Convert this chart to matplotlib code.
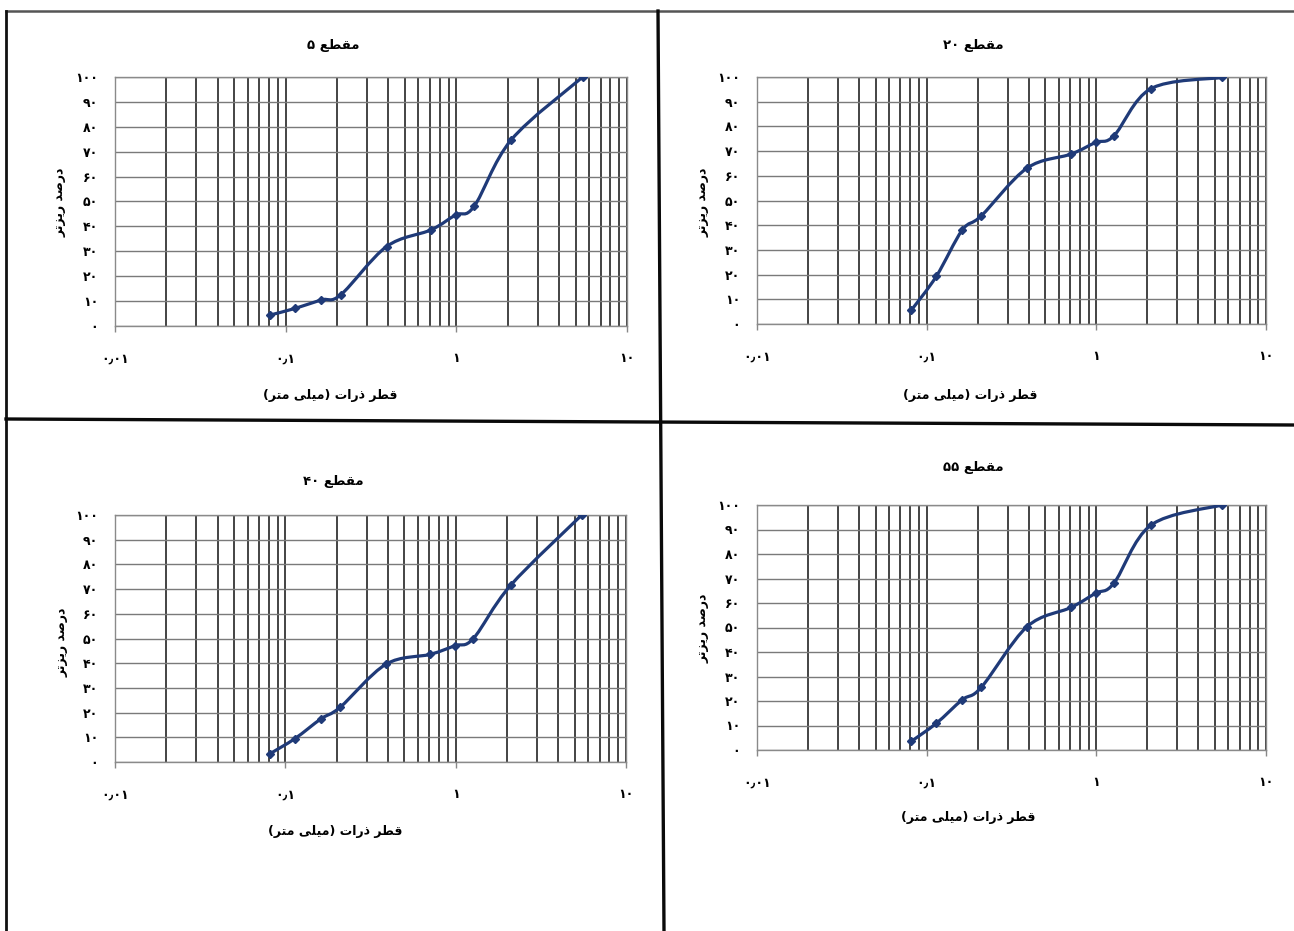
import numpy as np
import matplotlib
matplotlib.use("Agg")
import matplotlib.pyplot as plt
from matplotlib.path import Path
from matplotlib.patches import PathPatch
from matplotlib.lines import Line2D
from matplotlib.ticker import LogLocator, FixedLocator, NullFormatter

plt.rcParams['font.family'] = ['DejaVu Sans']

# ---------------- data ----------------
sizes = [0.081, 0.114, 0.162, 0.21, 0.39, 0.71, 0.99, 1.27, 2.1, 5.5]
pass_5 = [4.4, 7.1, 10.5, 12.5, 31.9, 38.6, 44.6, 48.0, 74.8, 100]
pass_20 = [5.5, 19.3, 38.0, 43.8, 63.1, 68.8, 73.5, 76.2, 95.3, 99.8]
pass_40 = [3.3, 9.5, 17.5, 22.2, 39.6, 43.6, 47.1, 50.0, 71.5, 100]
pass_55 = [3.5, 10.9, 20.5, 25.6, 50.3, 58.2, 64.0, 68.1, 91.8, 100]

titles = ["مقطع ۵", "مقطع ۲۰", "مقطع ۴۰", "مقطع ۵۵"]
y_label = "درصد ریزتر"
x_label = "قطر ذرات (میلی متر)"
y_ticks = [0, 10, 20, 30, 40, 50, 60, 70, 80, 90, 100]
y_tick_labels = ["۰", "۱۰", "۲۰", "۳۰", "۴۰", "۵۰", "۶۰", "۷۰", "۸۰", "۹۰", "۱۰۰"]
x_ticks = [0.01, 0.1, 1, 10]
x_tick_labels = ["۰٫۰۱", "۰٫۱", "۱", "۱۰"]

# ------------- Arabic-script shaping (no bidi engine available) -------------
FORMS = {  # isolated, final, initial, medial
    'م': ('\uFEE1', '\uFEE2', '\uFEE3', '\uFEE4'),
    'ق': ('\uFED5', '\uFED6', '\uFED7', '\uFED8'),
    'ط': ('\uFEC1', '\uFEC2', '\uFEC3', '\uFEC4'),
    'ع': ('\uFEC9', '\uFECA', '\uFECB', '\uFECC'),
    'ص': ('\uFEB9', '\uFEBA', '\uFEBB', '\uFEBC'),
    'ی': ('\uFBFC', '\uFBFD', '\uFBFE', '\uFBFF'),
    'ت': ('\uFE95', '\uFE96', '\uFE97', '\uFE98'),
    'ل': ('\uFEDD', '\uFEDE', '\uFEDF', '\uFEE0'),
    'د': ('\uFEA9', '\uFEAA', None, None),
    'ذ': ('\uFEAB', '\uFEAC', None, None),
    'ر': ('\uFEAD', '\uFEAE', None, None),
    'ز': ('\uFEAF', '\uFEB0', None, None),
    'ا': ('\uFE8D', '\uFE8E', None, None),
}
DIGITS = set("۰۱۲۳۴۵۶۷۸۹٫0123456789.")


def joins_left(c):  # can connect to following letter
    return c in FORMS and FORMS[c][2] is not None


def shape(text):
    out = []
    for i, c in enumerate(text):
        if c not in FORMS:
            out.append(c)
            continue
        prev = text[i - 1] if i > 0 else ''
        nxt = text[i + 1] if i + 1 < len(text) else ''
        jp = joins_left(prev)
        jn = joins_left(c) and nxt in FORMS
        iso, fin, ini, med = FORMS[c]
        if jp and jn:
            out.append(med)
        elif jp:
            out.append(fin)
        elif jn:
            out.append(ini)
        else:
            out.append(iso)
    return ''.join(out)


def visual(text):
    s = shape(text)
    tokens = []
    for c in s:
        isd = c in DIGITS
        if tokens and tokens[-1][0] == isd and isd:
            tokens[-1][1].append(c)
        else:
            tokens.append([isd, [c]])
    mirror = {'(': ')', ')': '('}
    res = []
    for isd, chars in reversed(tokens):
        if isd:
            res.append(''.join(chars))
        else:
            res.append(''.join(mirror.get(ch, ch) for ch in reversed(chars)))
    return ''.join(res)


def smooth_path(xs, ys):
    lx = np.log10(np.asarray(xs, float))
    yy = np.asarray(ys, float)
    P = np.column_stack([lx, yy])
    n = len(P)
    verts = [P[0]]
    codes = [Path.MOVETO]
    for i in range(n - 1):
        p0 = P[i - 1] if i > 0 else P[i]
        p1 = P[i]
        p2 = P[i + 1]
        p3 = P[i + 2] if i + 2 < n else P[i + 1]
        c1 = p1 + (p2 - p0) / 6.0
        c2 = p2 - (p3 - p1) / 6.0
        verts += [c1, c2, p2]
        codes += [Path.CURVE4] * 3
    V = np.array(verts)
    V[:, 0] = 10 ** V[:, 0]
    return Path(V, codes)


W, H = 1294, 931
fig = plt.figure(figsize=(W / 100, H / 100), dpi=100)
fig.patch.set_facecolor('white')

def fx(px):
    return px / W

def fy(py):
    return 1 - py / H

panels = [
    dict(box=(115, 627, 77, 326), title=(333, 45), yl=(60, 202), xl=(330, 395), data=pass_5),
    dict(box=(757, 1266, 77, 324), title=(973, 45), yl=(703, 202), xl=(970, 395), data=pass_20),
    dict(box=(115, 626, 515, 762), title=(333, 481), yl=(62, 642), xl=(335, 832), data=pass_40),
    dict(box=(757, 1266, 505, 750), title=(973, 468), yl=(703, 628), xl=(968, 818), data=pass_55),
]

line_color = '#1f3a78'

for k, p in enumerate(panels):
    l, r, t, b = p['box']
    ax = fig.add_axes([fx(l), fy(b), (r - l) / W, (b - t) / H])
    ax.set_xscale('log')
    ax.set_xlim(0.01, 10)
    ax.set_ylim(0, 100)
    ax.xaxis.set_major_locator(FixedLocator(x_ticks))
    ax.xaxis.set_minor_locator(LogLocator(base=10, subs=np.arange(2, 10), numticks=20))
    ax.xaxis.set_minor_formatter(NullFormatter())
    ax.set_xticks(x_ticks)
    ax.set_xticklabels(x_tick_labels, fontsize=9, fontweight='bold')
    ax.set_yticks(y_ticks)
    ax.set_yticklabels(y_tick_labels, fontsize=9, fontweight='bold')
    ax.tick_params(axis='x', which='major', length=4, width=1, color='#888888', pad=15)
    ax.tick_params(axis='x', which='minor', length=0)
    ax.tick_params(axis='y', length=0, pad=12)
    ax.grid(True, axis='x', which='both', color='#111111', linewidth=1.1)
    ax.grid(True, axis='y', which='major', color='#7a7a7a', linewidth=1.0)
    for s in ax.spines.values():
        s.set_color('#8a8a8a')
        s.set_linewidth(1.0)
    ax.set_axisbelow(True)

    patch = PathPatch(smooth_path(sizes, p['data']), facecolor='none',
                      edgecolor=line_color, linewidth=2.3, transform=ax.transData,
                      zorder=3)
    ax.add_patch(patch)
    ax.plot(sizes, p['data'], linestyle='none', marker='D', markersize=3.8,
            color=line_color, zorder=4)

    tx, ty = p['title']
    fig.text(fx(tx), fy(ty), visual(titles[k]), ha='center', va='center',
             fontsize=9.5, fontweight='bold')
    yx, yy = p['yl']
    fig.text(fx(yx), fy(yy), visual(y_label), ha='center', va='center',
             rotation=90, fontsize=9, fontweight='bold')
    xx, xy = p['xl']
    fig.text(fx(xx), fy(xy), visual(x_label), ha='center', va='center',
             fontsize=9, fontweight='bold')

# frame and dividers
fig.add_artist(Line2D([fx(6), fx(1294)], [fy(11), fy(11)], color='#555555', linewidth=1.8,
                      transform=fig.transFigure))
fig.add_artist(Line2D([fx(6), fx(6)], [fy(11), fy(931)], color='#111111', linewidth=2.0,
                      transform=fig.transFigure))
fig.add_artist(Line2D([fx(658), fx(664)], [fy(11), fy(931)], color='#0a0a0a', linewidth=2.4,
                      transform=fig.transFigure))
fig.add_artist(Line2D([fx(6), fx(1294)], [fy(419), fy(425)], color='#0a0a0a', linewidth=2.4,
                      transform=fig.transFigure))

fig.savefig('out.png', dpi=100, facecolor='white')
